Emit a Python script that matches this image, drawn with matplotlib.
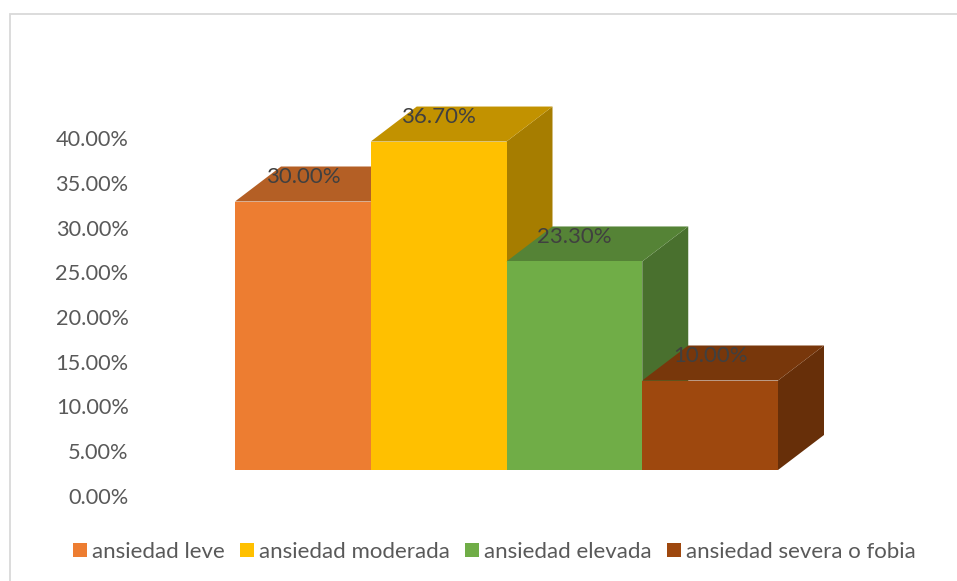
import numpy as np
import matplotlib.pyplot as plt
from matplotlib.patches import Patch, Rectangle
from matplotlib.colors import to_rgb

# Values (percent)
categories = ['ansiedad leve', 'ansiedad moderada', 'ansiedad elevada', 'ansiedad severa o fobia']
values = [30.0, 36.7, 23.3, 10.0]
colors = ['#ED7D31', '#FFC000', '#70AD47', '#9E480E']
ticks = [0, 5, 10, 15, 20, 25, 30, 35, 40]

W, H = 957, 581
plt.rcParams['font.family'] = ['Lato', 'DejaVu Sans']
FS = 15.7
FS_LABEL = 16.0

fig = plt.figure(figsize=(W/100, H/100), dpi=100, facecolor='white')

# Axes placed in pixels, ticks are 44.75 px apart, one bar is 135.75 px wide
left, right, top, bottom = 140, 945, 20, 540
ax = fig.add_axes([left/W, 1-bottom/H, (right-left)/W, (bottom-top)/H])
px_x = 135.75
px_y = 8.95
ax.set_xlim((left-235)/px_x, (right-235)/px_x)
ax.set_ylim((496-bottom)/px_y, (496-top)/px_y)
ax.patch.set_visible(False)
for s in ax.spines.values():
    s.set_visible(False)

base = 26/px_y      # floor of the 3D box sits above the 0% label
dx = 46/px_x        # depth offset
dy = 35/px_y

def shade(c, f):
    return tuple(v*f for v in to_rgb(c))

for i, (v, c) in enumerate(zip(values, colors)):
    y0, y1 = base, base+v
    # right side and top first, front face over them
    ax.fill([i+1, i+1+dx, i+1+dx, i+1], [y0, y0+dy, y1+dy, y1], color=shade(c, 0.65), lw=0, zorder=2+i)
    ax.fill([i, i+1, i+1+dx, i+dx], [y1, y1, y1+dy, y1+dy], color=shade(c, 0.76), lw=0, zorder=2+i)
    ax.bar(i, v, width=1, bottom=base, align='edge', color=c, lw=0, zorder=2+i)
    ax.annotate(f'{v:.2f}%', (i+0.5, y1), xytext=(0.2, 17.7), textcoords='offset points',
                ha='center', va='center', fontsize=FS_LABEL, color='#404040', zorder=10)

ax.set_xticks([])
ax.set_yticks(ticks)
ax.set_yticklabels([f'{t:.2f}%' for t in ticks], fontsize=FS, color='#595959')
ax.tick_params(axis='y', length=0, pad=8.2)

handles = [Patch(color=c, lw=0) for c in colors]
fig.legend(handles, categories, loc='center', bbox_to_anchor=(494.5/W, 1-552/H), ncol=4, frameon=False,
           fontsize=FS_LABEL, labelcolor='#595959', handlelength=0.63, handleheight=0.63,
           handletextpad=0.23, columnspacing=0.68, borderpad=0, borderaxespad=0)

# Chart area border, runs off the picture on the right and bottom
fig.add_artist(Rectangle((10/W, -0.1), 1.2, 1.1-14/H, transform=fig.transFigure,
                         fill=False, ec='#D9D9D9', lw=1.3))

fig.savefig('out.png', dpi=100)
